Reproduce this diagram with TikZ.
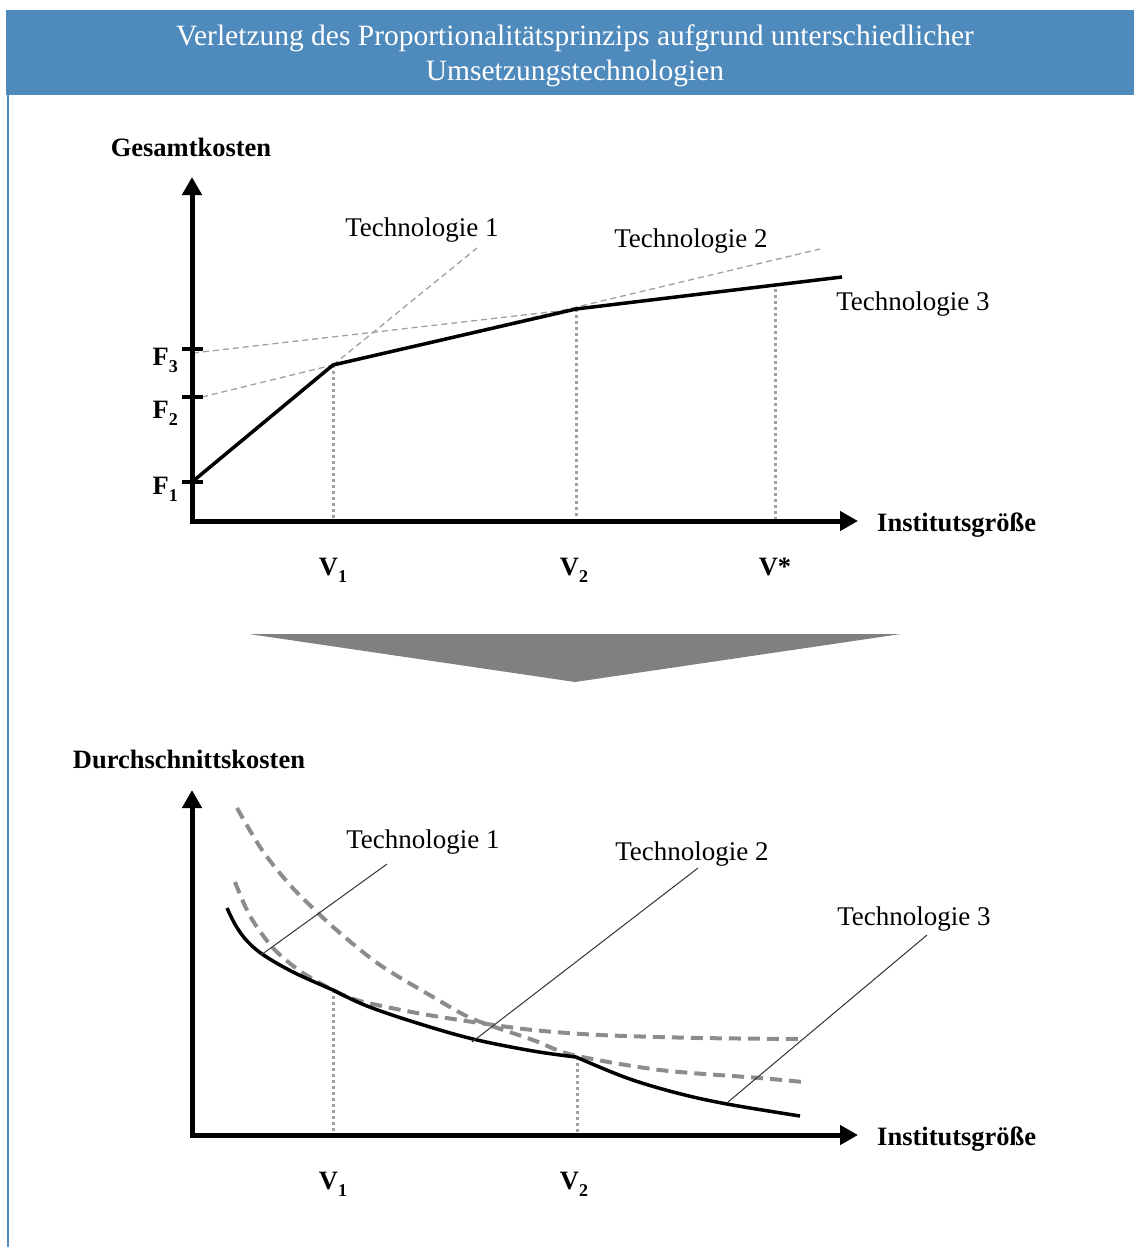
\documentclass[tikz,border=0pt]{standalone}
\usepackage{fontspec}
\setmainfont{Liberation Serif}
\usetikzlibrary{arrows.meta}

\definecolor{hdrblue}{RGB}{79,138,189}
\definecolor{linegray}{RGB}{160,160,160}
\definecolor{curvegray}{RGB}{140,140,140}
\definecolor{arrowgray}{RGB}{128,128,128}

\newcommand\lowsub[1]{\raisebox{-7pt}{\fontsize{18}{20}\selectfont #1}}

\begin{document}
\begin{tikzpicture}[
        x=1pt, y=-1pt,
        axis/.style={line width=5pt, line join=miter, {Triangle[length=18pt,width=19pt]}-{Triangle[length=18pt,width=19pt]}},
        tick/.style={line width=3.5pt},
        costline/.style={line width=3.5pt, line join=round},
        techline/.style={linegray, line width=1.3pt, dash pattern=on 6pt off 4pt},
        guide/.style={linegray, line width=3pt, dash pattern=on 3pt off 3pt},
        avgline/.style={curvegray, line width=4pt, dash pattern=on 12pt off 7pt},
        leader/.style={black!80, line width=1pt},
        lbl/.style={font=\fontsize{27}{32}\selectfont, inner sep=0pt, anchor=base},
        axlbl/.style={font=\bfseries\fontsize{26.5}{32}\selectfont, inner sep=0pt, anchor=base},
        hdr/.style={font=\fontsize{29.5}{35}\selectfont, text=white, inner sep=0pt, anchor=base}
    ]
    \useasboundingbox (0,0) rectangle (1134,1247);

    % Frame and title
    \fill[hdrblue] (6,10) rectangle (1134,95);
    \draw[hdrblue, line width=2pt] (7.5,95) -- (7.5,1247);
    \node[hdr] (title1) at (575,46) {Verletzung des Proportionalitätsprinzips aufgrund unterschiedlicher};
    \node[hdr] (title2) at (575,81) {Umsetzungstechnologien};

    % Upper chart: total costs
    \coordinate (o1) at (192,521);
    \coordinate (ytop1) at (192,177);
    \coordinate (xend1) at (858,521);
    \coordinate (F1) at (192,482);
    \coordinate (F2) at (202,397);
    \coordinate (F3) at (193,353);
    \coordinate (P1) at (333,365);
    \coordinate (P2) at (576,309);
    \coordinate (P3) at (842,277);
    \coordinate (T1end) at (477,248);
    \coordinate (T2end) at (820,249);

    \draw[techline] (P1) -- (T1end);
    \draw[techline] (F2) -- (P1) -- (T2end);
    \draw[techline] (F3) -- (P2);
    \draw[guide] (P1) -- (333,521);
    \draw[guide] (P2) -- (576,521);
    \draw[guide] (775,289) -- (775,521);
    \draw[costline, line join=miter] (F1) -- (P1) -- (P2) -- (P3);
    \draw[axis] (ytop1) -- (o1) -- (xend1);
    \foreach \ty in {482,397,349}
        \draw[tick] (182,\ty) -- (203,\ty);

    \node[axlbl] (gk) at (191,156) {Gesamtkosten};
    \node[axlbl, anchor=base west] (ig1) at (877,531) {Institutsgröße};
    \node[axlbl, anchor=base east] (f3) at (178,365) {F\lowsub{3}};
    \node[axlbl, anchor=base east] (f2) at (178,418) {F\lowsub{2}};
    \node[axlbl, anchor=base east] (f1) at (178,494) {F\lowsub{1}};
    \node[axlbl] (v1a) at (333,575) {V\lowsub{1}};
    \node[axlbl] (v2a) at (574,575) {V\lowsub{2}};
    \node[axlbl] (vstar) at (775,575) {V*};
    \node[lbl] (t1a) at (422,236) {Technologie 1};
    \node[lbl] (t2a) at (691,247) {Technologie 2};
    \node[lbl] (t3a) at (913,310) {Technologie 3};

    % Transition arrow
    \fill[arrowgray] (249,634) -- (901,634) -- (575,682) -- cycle;

    % Lower chart: average costs
    \coordinate (o2) at (192,1135);
    \coordinate (ytop2) at (192,790);
    \coordinate (xend2) at (858,1135);

    \draw[guide] (333,990) -- (333,1135);
    \draw[guide] (577,1057) -- (577,1135);
    \draw[avgline] plot[smooth, tension=0.5] coordinates {(237,808) (262,850) (290,885) (317,912) (340,933) (380,965) (433,997) (473,1019) (533,1040) (573,1055) (660,1070) (760,1078) (803,1082)};
    \draw[avgline] plot[smooth, tension=0.5] coordinates {(235,882) (250,916) (273,948) (300,971) (333,990) (360,1001) (417,1013) (473,1022) (533,1030) (600,1035) (700,1038) (805,1039)};
    \draw[costline] plot[smooth, tension=0.6] coordinates {(227,908) (236,926) (248,942) (265,956) (295,973) (333,990)}
        -- plot[smooth, tension=0.6] coordinates {(333,990) (367,1006) (417,1023) (473,1039) (533,1051) (576,1057)}
        -- plot[smooth, tension=0.6] coordinates {(576,1057) (627,1078) (677,1093) (727,1104) (800,1116)};
    \draw[axis] (ytop2) -- (o2) -- (xend2);

    \node[axlbl] (dk) at (189,768) {Durchschnittskosten};
    \node[axlbl, anchor=base west] (ig2) at (877,1145) {Institutsgröße};
    \node[axlbl] (v1b) at (333,1189) {V\lowsub{1}};
    \node[axlbl] (v2b) at (574,1189) {V\lowsub{2}};
    \node[lbl] (t1b) at (423,848) {Technologie 1};
    \node[lbl] (t2b) at (692,860) {Technologie 2};
    \node[lbl] (t3b) at (914,925) {Technologie 3};

    \coordinate (c1) at (261,955);
    \coordinate (c2) at (472,1042);
    \coordinate (c3) at (728,1102);
    \draw[leader] ([shift={(-36,10)}]t1b.south) -- (c1);
    \draw[leader] ([shift={(6,2)}]t2b.south) -- (c2);
    \draw[leader] ([shift={(13,4)}]t3b.south) -- (c3);

\end{tikzpicture}
\end{document}
